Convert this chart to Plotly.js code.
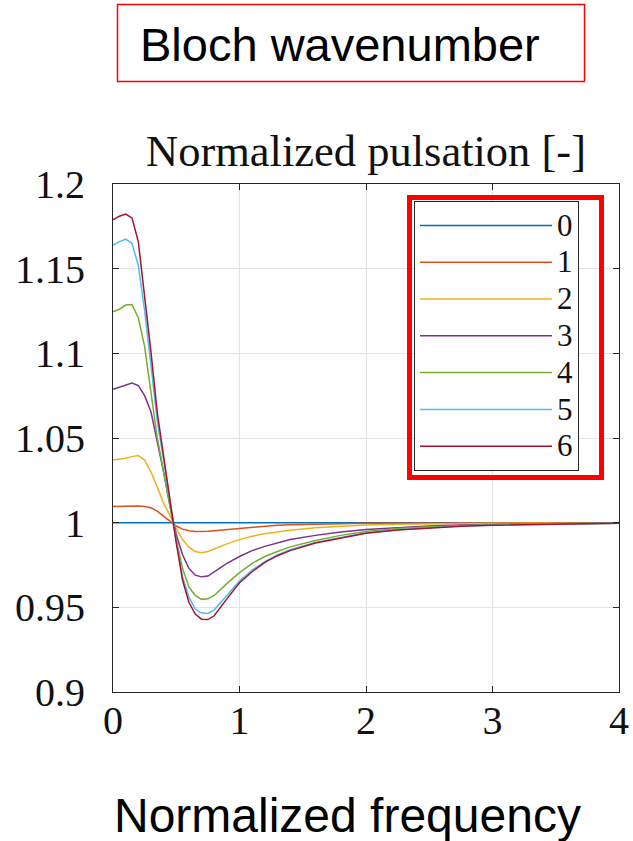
<!DOCTYPE html>
<html><head><meta charset="utf-8">
<script src="https://cdn.plot.ly/plotly-3.0.1.min.js"></script>
<style>html,body{margin:0;padding:0;background:#fff;} #chart{width:633px;height:841px;}</style>
</head><body><div id="chart"></div>
<script>
// ---- data ----
const normalizedFrequency = [0, 0.05, 0.1, 0.15, 0.2, 0.25, 0.3, 0.35, 0.4, 0.45, 0.5, 0.55, 0.6, 0.65, 0.7, 0.75, 0.8, 0.9, 1.0, 1.1, 1.2, 1.3, 1.4, 1.6, 1.8, 2.0, 2.25, 2.5, 2.75, 3.0, 3.5, 4.0];
const blochWavenumbers = ['0', '1', '2', '3', '4', '5', '6'];
const pulsationK0 = [1,1,1,1,1,1,1,1,1,1,1,1,1,1,1,1,1,1,1,1,1,1,1,1,1,1,1,1,1,1,1,1];
const pulsationK1 = [1.0095,1.0096,1.0097,1.0098,1.0098,1.0095,1.0088,1.0068,1.004,1.001,0.998,0.9962,0.9952,0.9948,0.9947,0.9949,0.9953,0.996,0.9968,0.9975,0.998,0.9985,0.9988,0.9992,0.9995,0.9996,0.9997,0.9998,0.9998,0.9999,0.9999,1.0];
const pulsationK2 = [1.037,1.0375,1.038,1.039,1.0396,1.037,1.030,1.021,1.0114,1.0045,0.9965,0.990,0.9855,0.983,0.9823,0.983,0.9845,0.9875,0.990,0.992,0.9935,0.9946,0.9955,0.997,0.998,0.9986,0.999,0.9993,0.9995,0.9996,0.9998,0.9999];
const pulsationK3 = [1.0788,1.080,1.0815,1.0825,1.081,1.075,1.0655,1.048,1.030,1.010,0.993,0.981,0.973,0.969,0.968,0.9685,0.971,0.976,0.980,0.9835,0.986,0.988,0.990,0.9925,0.9945,0.996,0.9971,0.998,0.9986,0.999,0.9995,0.9998];
const pulsationK4 = [1.1246,1.126,1.1285,1.1288,1.121,1.104,1.077,1.050,1.030,1.010,0.990,0.973,0.962,0.957,0.9547,0.955,0.957,0.964,0.9705,0.976,0.980,0.983,0.9857,0.9895,0.9925,0.9948,0.9965,0.9976,0.9983,0.9988,0.9994,0.9997];
const pulsationK5 = [1.1638,1.166,1.1674,1.165,1.152,1.125,1.093,1.060,1.037,1.013,0.989,0.968,0.956,0.949,0.9466,0.9464,0.9485,0.957,0.9655,0.972,0.977,0.981,0.984,0.9883,0.9913,0.994,0.9958,0.997,0.998,0.9986,0.9993,0.9997];
const pulsationK6 = [1.1788,1.181,1.1822,1.180,1.166,1.135,1.101,1.065,1.040,1.014,0.988,0.966,0.953,0.946,0.943,0.9428,0.945,0.955,0.9645,0.971,0.9765,0.9805,0.9835,0.988,0.991,0.9937,0.9956,0.9969,0.9979,0.9985,0.9993,0.9997];
const xTickValues = [0, 1, 2, 3, 4];
const xTickLabels = ['0', '1', '2', '3', '4'];
const yTickValues = [0.9, 0.95, 1, 1.05, 1.1, 1.15, 1.2];
const yTickLabels = ['0.9', '0.95', '1', '1.05', '1.1', '1.15', '1.2'];

// ---- styles ----
const lineColors = ['#0072BD', '#D95319', '#EDB120', '#7E2F8E', '#77AC30', '#4DBEEE', '#A2142F'];
const series = [pulsationK0, pulsationK1, pulsationK2, pulsationK3, pulsationK4, pulsationK5, pulsationK6];

const L = 113, R = 619, T = 184, B = 692;
const px = v => (v - L) / (R - L);
const py = v => (B - v) / (B - T);

const traces = series.map((ys, i) => ({
  type: 'scatter', mode: 'lines',
  x: normalizedFrequency, y: ys,
  name: '<span style="font-size:31px">' + blochWavenumbers[i] + '</span>',
  line: {color: lineColors[i], width: 1.5},
  hoverinfo: 'skip'
}));

const axisCommon = {
  showline: true, linecolor: '#262626', linewidth: 1, mirror: 'ticks',
  ticks: 'inside', ticklen: 6, tickcolor: '#262626', tickwidth: 1,
  showgrid: true, gridcolor: '#e2e2e2', gridwidth: 1, zeroline: false,
  tickfont: {family: 'Liberation Serif', size: 40, color: '#111'},
  tickmode: 'array', automargin: false, fixedrange: true
};

const layout = {
  width: 633, height: 841,
  margin: {l: L, r: 633 - R, t: T, b: 841 - B, pad: 0},
  paper_bgcolor: '#fff', plot_bgcolor: '#fff',
  showlegend: true,
  title: {
    text: 'Normalized pulsation [-]',
    font: {family: 'Liberation Serif', size: 44.5, color: '#111'},
    x: 0.5, xref: 'paper', xanchor: 'center',
    y: (841 - 150) / 841, yref: 'container', yanchor: 'middle'
  },
  xaxis: Object.assign({}, axisCommon, {
    range: [0, 4], tickvals: xTickValues, ticktext: xTickLabels,
    ticklabelstandoff: -7
  }),
  yaxis: Object.assign({}, axisCommon, {
    range: [0.9, 1.2], tickvals: yTickValues, ticktext: yTickLabels,
    ticklabelstandoff: 19
  }),
  legend: {
    x: px(414), y: py(201), xanchor: 'left', yanchor: 'top',
    bgcolor: '#fff', bordercolor: '#262626', borderwidth: 1,
    font: {family: 'Liberation Serif', size: 26, color: '#111'},
    itemwidth: 132, tracegroupgap: 0, traceorder: 'normal'
  },
  shapes: [
    {type: 'rect', xref: 'paper', yref: 'paper', x0: px(117.5), x1: px(584.5), y0: py(81.5), y1: py(4.5),
     line: {color: '#ff0000', width: 1.5}, fillcolor: 'rgba(0,0,0,0)'},
    {type: 'rect', xref: 'paper', yref: 'paper', x0: px(409.5), x1: px(601.5), y0: py(477.5), y1: py(197.5),
     line: {color: '#ff0000', width: 5}, fillcolor: 'rgba(0,0,0,0)'}
  ],
  annotations: [
    {text: 'Bloch wavenumber', xref: 'paper', yref: 'paper', x: px(340), y: py(44),
     xanchor: 'center', yanchor: 'middle', showarrow: false,
     font: {family: 'Liberation Sans', size: 47, color: '#000'}},
    {text: 'Normalized frequency', xref: 'paper', yref: 'paper', x: px(347), y: py(815),
     xanchor: 'center', yanchor: 'middle', showarrow: false,
     font: {family: 'Liberation Sans', size: 48, color: '#000'}}
  ]
};

Plotly.newPlot('chart', traces, layout, {staticPlot: true, displayModeBar: false});
</script>
</body></html>
